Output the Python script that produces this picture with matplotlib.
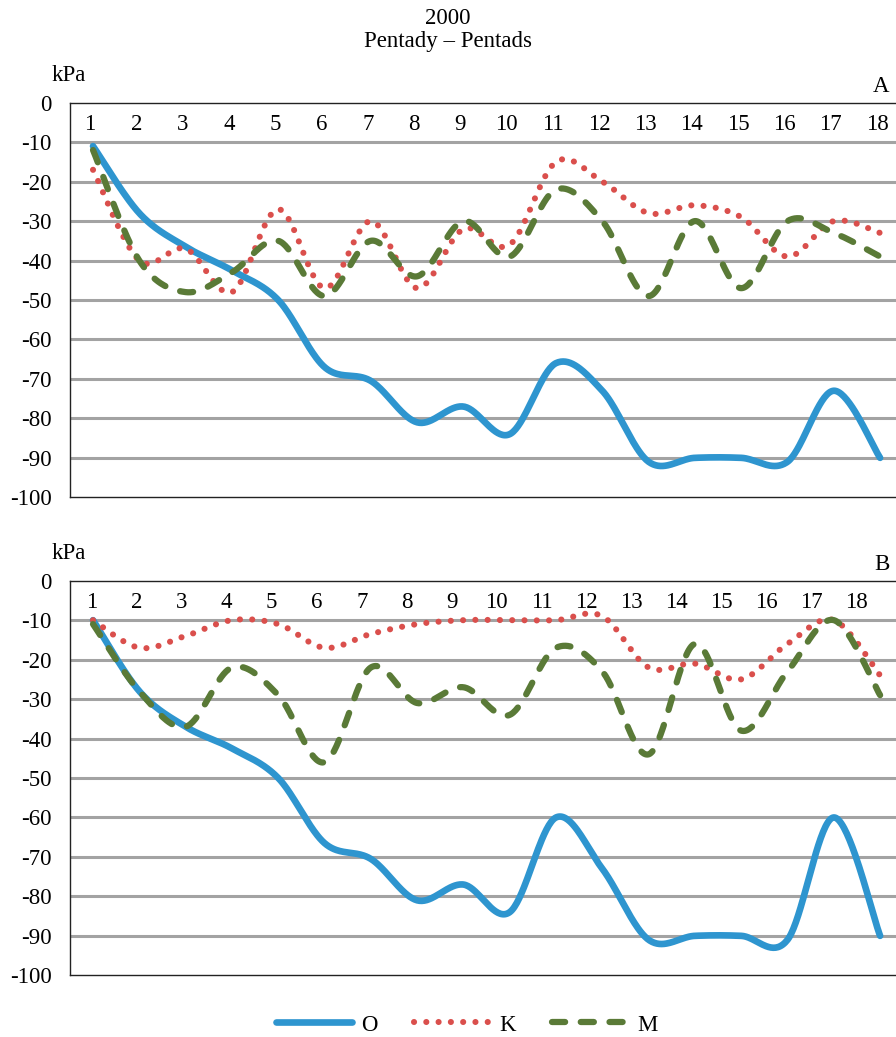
import numpy as np
import matplotlib
matplotlib.use("Agg")
import matplotlib.pyplot as plt

plt.rcParams['font.family'] = ['Liberation Serif', 'DejaVu Serif']

# ---- data -------------------------------------------------------------
pentads = list(range(1, 19))
pentad_labels = [str(p) for p in pentads]
y_ticks = [0, -10, -20, -30, -40, -50, -60, -70, -80, -90, -100]
series_names = ['O', 'K', 'M']

# Panel A (kPa)
o_a = [-11, -28, -36.5, -42.5, -50, -67, -70.5, -81, -77, -84,
       -66, -73, -91, -90, -90, -91, -73, -90]
k_a = [-17, -40, -37, -48, -27, -47, -30, -47, -32, -36,
       -15, -20, -28, -26, -29, -39, -30, -33]
m_a = [-12, -40, -48, -43, -35, -49, -35, -44, -30, -39,
       -22, -30, -49, -30, -47, -30, -33, -39]

# Panel B (kPa)
o_b = [-10, -28, -37, -42.5, -50, -66.5, -70.5, -81, -77, -84,
       -60, -73, -91, -90, -90, -91, -60, -90]
k_b = [-10, -17, -14, -10, -11, -17, -13.5, -11, -10, -10,
       -10, -9, -22, -21, -25, -16, -10, -24]
m_b = [-11, -28, -37, -22, -29, -46, -22, -31, -27, -34,
       -17, -23, -44, -16, -38, -23, -10, -29]

# ---- styles -----------------------------------------------------------
C_O = '#2E95CF'
C_K = '#DA4F4C'
C_M = '#5A7A37'
GRID = '#A3A3A3'
FS = 16.5


def smooth(x, y, n=40):
    """Catmull-Rom style cubic Bezier smoothing through the points."""
    x = np.asarray(x, float)
    y = np.asarray(y, float)
    P = np.column_stack([x, y])
    Pe = np.vstack([P[0], P, P[-1]])
    t = np.linspace(0, 1, n)[:, None]
    out = []
    for i in range(len(P) - 1):
        p0, p1, p2, p3 = Pe[i], Pe[i + 1], Pe[i + 2], Pe[i + 3]
        c1 = p1 + (p2 - p0) / 6.0
        c2 = p2 - (p3 - p1) / 6.0
        seg = ((1 - t) ** 3) * p1 + 3 * ((1 - t) ** 2) * t * c1 \
            + 3 * (1 - t) * t ** 2 * c2 + t ** 3 * p2
        out.append(seg if i == 0 else seg[1:])
    s = np.vstack(out)
    return s[:, 0], s[:, 1]


fig = plt.figure(figsize=(8.96, 10.37), dpi=100)

W, H = 896.0, 1037.0
ax_left = 70 / W
ax_w = 1.0 - ax_left
ax_h = (497.3 - 102.7) / H
axA = fig.add_axes([ax_left, 1 - 497.3 / H, ax_w, ax_h])
axB = fig.add_axes([ax_left, 1 - 975.3 / H, ax_w, ax_h])


def draw_panel(ax, o, k, m, letter, label_pos):
    ax.set_xlim(0.503, 18.343)
    ax.set_ylim(-100, 0)
    for v in y_ticks[1:-1]:
        ax.axhline(v, color=GRID, lw=2.2, zorder=1)
    xo, yo = smooth(pentads, o)
    xk, yk = smooth(pentads, k)
    xm, ym = smooth(pentads, m)
    lo, = ax.plot(xo, yo, color=C_O, lw=4.8, solid_capstyle='round',
                  zorder=3, label=series_names[0])
    lk, = ax.plot(xk, yk, color=C_K, lw=4.4, linestyle=(0, (0.01, 2.0)),
                  dash_capstyle='round', zorder=4, label=series_names[1])
    lm, = ax.plot(xm, ym, color=C_M, lw=4.5, linestyle=(0, (2.1, 2.5)),
                  dash_capstyle='round', zorder=5, label=series_names[2])
    for xp, lab in zip(label_pos, pentad_labels):
        ax.text(xp, -5.6, lab, ha='center', va='center', fontsize=FS)
    ax.set_xticks([])
    ax.set_yticks(y_ticks)
    ax.set_yticklabels([str(v) for v in y_ticks])
    ax.tick_params(axis='y', length=0, pad=13, labelsize=FS)
    for side in ('left', 'top', 'bottom'):
        ax.spines[side].set_color('#222222')
        ax.spines[side].set_linewidth(1.0)
    ax.spines['right'].set_visible(False)
    ax.text(-0.022, 1.07, 'kPa', transform=ax.transAxes, ha='left',
            va='center', fontsize=FS)
    ax.text(0.992, 1.04, letter, transform=ax.transAxes, ha='right',
            va='center', fontsize=FS)
    return lo, lk, lm


pos_a = [p - 0.065 for p in pentads]
pos_b = [1 + (91.7 + (p - 1) * 45.0 - 93) / 46.3 for p in pentads]

handles = draw_panel(axA, o_a, k_a, m_a, 'A', pos_a)
draw_panel(axB, o_b, k_b, m_b, 'B', pos_b)

fig.text(0.5, 1 - 18 / H, '2000', ha='center', va='center', fontsize=FS)
fig.text(0.5, 1 - 41 / H, 'Pentady – Pentads', ha='center', va='center',
         fontsize=FS)

fig.legend(handles, series_names, loc='center',
           bbox_to_anchor=(467 / W, 1 - 1025 / H), ncol=3, frameon=False,
           fontsize=FS, handlelength=3.3, columnspacing=1.6,
           handletextpad=0.4)

fig.savefig('out.png', dpi=100)
